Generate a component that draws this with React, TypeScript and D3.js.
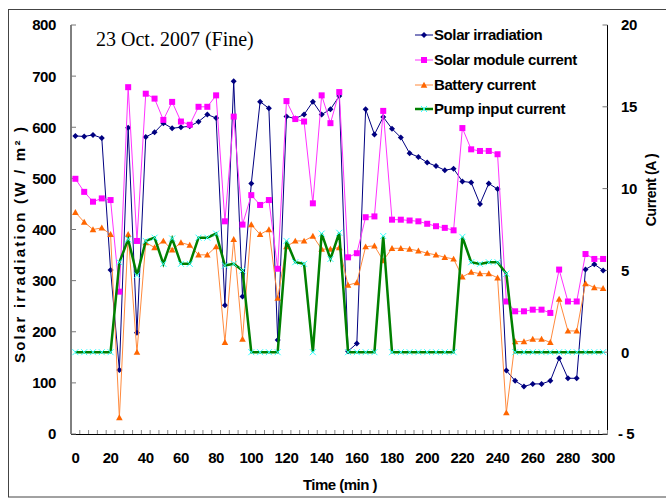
import React from "react";
import * as d3 from "d3";

const times = [0,5,10,15,20,25,30,35,40,45,50,55,60,65,70,75,80,85,90,95,100,105,110,115,120,125,130,135,140,145,150,155,160,165,170,175,180,185,190,195,200,205,210,215,220,225,230,235,240,245,250,255,260,265,270,275,280,285,290,295,300];

const irradiation = [583,582,585,579,321,125,599,198,581,590,608,598,600,602,611,625,618,252,690,269,490,650,637,184,621,617,625,650,625,635,661,162,177,635,586,620,597,580,549,542,531,524,516,519,494,492,450,490,479,124,104,93,98,98,104,148,109,109,322,332,320];

const moduleCurrent = [10.6,9.8,9.2,9.4,9.3,3.7,16.2,6.8,15.8,15.5,14.2,15.3,14.1,13.9,15.0,15.0,15.7,8.0,14.4,7.8,9.6,9.0,9.3,5.1,15.35,14.25,14.1,9.1,15.7,14.0,15.9,5.8,6.05,8.25,8.3,14.75,8.1,8.1,8.05,8.0,7.85,7.7,7.6,7.45,13.7,12.4,12.3,12.3,12.1,3.1,2.5,2.5,2.6,2.6,2.4,5.05,3.1,3.1,6.0,5.7,5.7];

const batteryCurrent = [8.55,7.95,7.5,7.6,7.2,-4.0,7.2,0.0,6.7,6.4,6.8,6.25,6.7,6.55,5.95,5.95,6.45,0.6,6.9,0.8,7.8,7.2,7.5,3.3,6.45,6.8,6.8,7.1,6.3,6.3,6.4,4.1,4.25,6.45,6.5,5.6,6.35,6.35,6.3,6.2,6.05,5.95,5.8,5.7,4.6,4.9,4.8,4.8,4.55,-3.7,0.65,0.65,0.8,0.8,0.6,3.25,1.3,1.3,4.2,3.95,3.9];

const pumpCurrent = [0,0,0,0,0,5.5,6.9,4.7,6.8,7.0,5.4,6.95,5.4,5.4,7.0,7.0,7.25,5.3,5.4,5.0,0,0,0,0,6.8,5.5,5.4,0,7.25,5.7,7.3,0,0,0,0,7.1,0,0,0,0,0,0,0,0,7.05,5.5,5.4,5.5,5.5,4.8,0,0,0,0,0,0,0,0,0,0,0];

const xTicks = [0,20,40,60,80,100,120,140,160,180,200,220,240,260,280,300];
const leftTicks = [0,100,200,300,400,500,600,700,800];
const rightTicks = [-5,0,5,10,15,20];

const legendLabels = ["Solar irradiation","Solar module current","Battery current","Pump input current"];

const FONT = "'Liberation Sans', Arial, sans-serif";

export default function App() {
  const left = 71, right = 607.5, top = 25, bottom = 434;
  const x = d3.scaleLinear().domain([-2.5, 302.5]).range([left, right]);
  const yL = d3.scaleLinear().domain([0, 800]).range([bottom, top]);
  const yR = d3.scaleLinear().domain([-5, 20]).range([bottom, top]);

  const lineL = d3.line<number>().x((_, i) => x(times[i])).y((d) => yL(d));
  const lineR = d3.line<number>().x((_, i) => x(times[i])).y((d) => yR(d));

  const catW = (right - left) / times.length;
  const minorTicks = d3.range(times.length + 1).map((k) => left + k * catW);

  const diamond = (cx: number, cy: number, s = 3) =>
    `M${cx},${cy - s}L${cx + s},${cy}L${cx},${cy + s}L${cx - s},${cy}Z`;
  const tri = (cx: number, cy: number, s = 3.3) =>
    `M${cx},${cy - s}L${cx + s},${cy + s * 0.8}L${cx - s},${cy + s * 0.8}Z`;
  const cross = (cx: number, cy: number, s = 3) =>
    `M${cx - s},${cy - s}L${cx + s},${cy + s}M${cx - s},${cy + s}L${cx + s},${cy - s}`;

  const legendX = 415, legendY = [35, 60, 85, 109];

  return (
    <div style={{ position: "absolute", left: 0, top: 0 }}>
      <svg width={666} height={501} style={{ display: "block", background: "#fff" }}>
        <rect x={8.5} y={9.5} width={700} height={487.5} fill="none" stroke="#444" strokeWidth={1} />

        {/* title */}
        <text x={96} y={46} fontFamily="'Liberation Serif', 'Times New Roman', serif" fontSize={20} fill="#000">
          23 Oct. 2007 (Fine)
        </text>

        {/* axes */}
        <line x1={left} x2={left} y1={top} y2={bottom} stroke="#000" />
        <line x1={right} x2={right} y1={top} y2={bottom} stroke="#000" />
        <line x1={left} x2={right} y1={bottom + 0.5} y2={bottom + 0.5} stroke="#000" />

        {leftTicks.map((t) => (
          <g key={"l" + t}>
            <line x1={left} x2={left + 5} y1={yL(t)} y2={yL(t)} stroke="#777" />
            <text x={56} y={yL(t)} dy="0.36em" textAnchor="end" fontFamily={FONT} fontWeight="bold" fontSize={15} letterSpacing={-0.4}>
              {t}
            </text>
          </g>
        ))}
        {rightTicks.map((t) => (
          <g key={"r" + t}>
            <line x1={right - 5} x2={right} y1={yR(t)} y2={yR(t)} stroke="#777" />
            <text x={t < 0 ? 618 : 621} y={yR(t)} dy="0.36em" textAnchor="start" fontFamily={FONT} fontWeight="bold" fontSize={15} letterSpacing={-0.4}>
              {t < 0 ? "- " + Math.abs(t) : t}
            </text>
          </g>
        ))}
        {minorTicks.map((mx, k) => (
          <line key={"m" + k} x1={mx} x2={mx} y1={bottom} y2={bottom - 4} stroke="#888" />
        ))}
        {xTicks.map((t) => (
          <text key={"x" + t} x={x(t)} y={463} textAnchor="middle" fontFamily={FONT} fontWeight="bold" fontSize={15} letterSpacing={-0.4}>
            {t}
          </text>
        ))}

        {/* axis titles */}
        <text x={340} y={490} textAnchor="middle" fontFamily={FONT} fontWeight="bold" fontSize={15} letterSpacing={-0.5}>
          Time (min )
        </text>
        <text transform="translate(25,245) rotate(-90)" textAnchor="middle" fontFamily={FONT} fontWeight="bold" fontSize={15} textLength={236} lengthAdjust="spacing">
          Solar  irradiation (W / m² )
        </text>
        <text transform="translate(656,190) rotate(-90)" textAnchor="middle" fontFamily={FONT} fontWeight="bold" fontSize={14} letterSpacing={-0.4}>
          Current  (A )
        </text>

        {/* series: irradiation */}
        <path d={lineL(irradiation) || ""} fill="none" stroke="#000080" strokeWidth={1} />
        {irradiation.map((d, i) => (
          <path key={"n" + i} d={diamond(x(times[i]), yL(d))} fill="#000080" />
        ))}

        {/* module current */}
        <path d={lineR(moduleCurrent) || ""} fill="none" stroke="#FF33FF" strokeWidth={1} />
        {moduleCurrent.map((d, i) => (
          <rect key={"p" + i} x={x(times[i]) - 3} y={yR(d) - 3} width={6} height={6} fill="#FF00FF" />
        ))}

        {/* battery current */}
        <path d={lineR(batteryCurrent) || ""} fill="none" stroke="#FF8A3D" strokeWidth={1} />
        {batteryCurrent.map((d, i) => (
          <path key={"o" + i} d={tri(x(times[i]), yR(d))} fill="#FF6600" />
        ))}

        {/* pump current */}
        <path d={lineR(pumpCurrent) || ""} fill="none" stroke="#008000" strokeWidth={2.5} />
        {pumpCurrent.map((d, i) => (
          <path key={"g" + i} d={cross(x(times[i]), yR(d))} stroke="#33FFFF" strokeWidth={1} fill="none" />
        ))}

        {/* legend */}
        {legendLabels.map((lab, k) => {
          const ly = legendY[k];
          const cx = legendX + 9;
          const colors = ["#000080", "#FF33FF", "#FF8A3D", "#008000"];
          return (
            <g key={"lg" + k}>
              <line x1={legendX} x2={legendX + 18} y1={ly} y2={ly} stroke={colors[k]} strokeWidth={k === 3 ? 2.5 : 1} />
              {k === 0 && <path d={diamond(cx, ly)} fill="#000080" />}
              {k === 1 && <rect x={cx - 3} y={ly - 3} width={6} height={6} fill="#FF00FF" />}
              {k === 2 && <path d={tri(cx, ly)} fill="#FF6600" />}
              {k === 3 && <path d={cross(cx, ly)} stroke="#33FFFF" strokeWidth={1} fill="none" />}
              <text x={434} y={ly} dy="0.36em" fontFamily={FONT} fontWeight="bold" fontSize={15} letterSpacing={-0.4}>
                {lab}
              </text>
            </g>
          );
        })}
      </svg>
    </div>
  );
}
